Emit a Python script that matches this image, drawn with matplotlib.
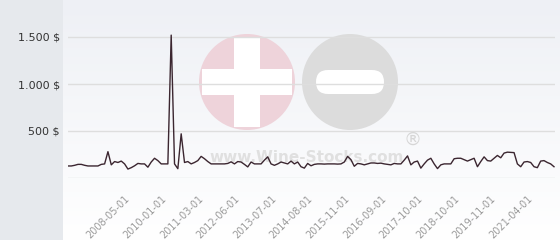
import numpy as np
import matplotlib
matplotlib.use("Agg")
import matplotlib.pyplot as plt
from matplotlib.patches import Circle, FancyBboxPatch, Rectangle

# monthly prices (USD)
prices = [
    128, 128, 135, 145, 145, 135, 128, 128, 128, 128,
    145, 150, 280, 140, 175, 165, 180, 150, 95, 110,
    130, 155, 150, 150, 115, 170, 210, 185, 150, 150,
    150, 1520, 150, 99, 470, 165, 175, 150, 165, 185,
    230, 205, 175, 150, 150, 150, 150, 150, 155, 172,
    150, 175, 170, 145, 118, 170, 150, 150, 150, 190,
    225, 150, 135, 150, 170, 160, 150, 180, 150, 170,
    120, 105, 155, 130, 145, 150, 150, 148, 150, 150,
    150, 148, 150, 170, 230, 195, 125, 155, 150, 140,
    150, 160, 160, 155, 158, 150, 145, 140, 155, 150,
    150, 190, 235, 140, 170, 180, 105, 150, 190, 210,
    150, 100, 140, 150, 150, 150, 205, 210, 210, 195,
    180, 195, 210, 120, 175, 225, 185, 180, 210, 240,
    215, 265, 275, 272, 270, 150, 120, 170, 175, 165,
    120, 110, 180, 185, 165, 150, 120,
]
tick_labels = [
    "2008-05-01", "2010-01-01", "2011-03-01", "2012-06-01",
    "2013-07-01", "2014-08-01", "2015-11-01", "2016-09-01",
    "2017-10-01", "2018-10-01", "2019-11-01", "2021-04-01",
]
y_ticks = [500, 1000, 1500]
y_tick_labels = ["500 $", "1.000 $", "1.500 $"]

W, H = 560, 240
fig = plt.figure(figsize=(W / 100, H / 100), dpi=100)
fig.patch.set_facecolor("#e6e9ed")

# background panel + watermark, drawn in pixel coordinates
bg = fig.add_axes([0, 0, 1, 1])
bg.set_xlim(0, W)
bg.set_ylim(H, 0)
bg.axis("off")
grad = np.linspace(0, 1, 256)[:, None]
bg.imshow(grad, cmap=matplotlib.colors.LinearSegmentedColormap.from_list(
    "bg", ["#eef0f5", "#ffffff"]), extent=(63, W, H, 0), aspect="auto")

pink = "#eed3da"
grey = "#dcdcdc"
bg.add_patch(Circle((247, 82), 48, color=pink, lw=0))
bg.add_patch(Rectangle((234, 37), 26, 90, color="white", lw=0))
bg.add_patch(Rectangle((202, 69), 90, 26, color="white", lw=0))
bg.add_patch(Circle((350, 82), 48, color=grey, lw=0))
bg.add_patch(FancyBboxPatch((316, 70), 68, 24,
                            boxstyle="round,pad=0,rounding_size=12",
                            color="white", lw=0))
bg.text(412, 140, "\u00ae", fontsize=13, color="#d6d6d6",
        ha="center", va="center")
bg.text(307, 158, "www.Wine-Stocks.com", fontsize=11, color="#e0e0e0",
        ha="center", va="center", fontweight="bold")

# main chart
ax = fig.add_axes([68 / W, (H - 178) / H, (555 - 68) / W, 178 / H])
ax.patch.set_alpha(0)
x = np.arange(len(prices))
ax.plot(x, prices, color="#3b2630", lw=1.0, zorder=3)
ax.set_xlim(0, len(prices) - 0.7)
ax.set_ylim(0, 178 / 47 * 500)

ax.set_yticks([0] + y_ticks)
ax.set_yticklabels([""] + y_tick_labels)
ax.grid(axis="y", color="#dedede", lw=1)
ax.tick_params(axis="y", length=0, pad=6, labelsize=8, labelcolor="#333333")

step = 11
first = 17
ax.set_xticks(x[first::step][:len(tick_labels)])
ax.set_xticklabels(tick_labels, rotation=45, ha="right",
                   rotation_mode="anchor")
ax.tick_params(axis="x", length=0, pad=11, labelsize=7,
               labelcolor="#9a9a9a")
for s in ax.spines.values():
    s.set_visible(False)

fig.savefig("out.png", dpi=100)
